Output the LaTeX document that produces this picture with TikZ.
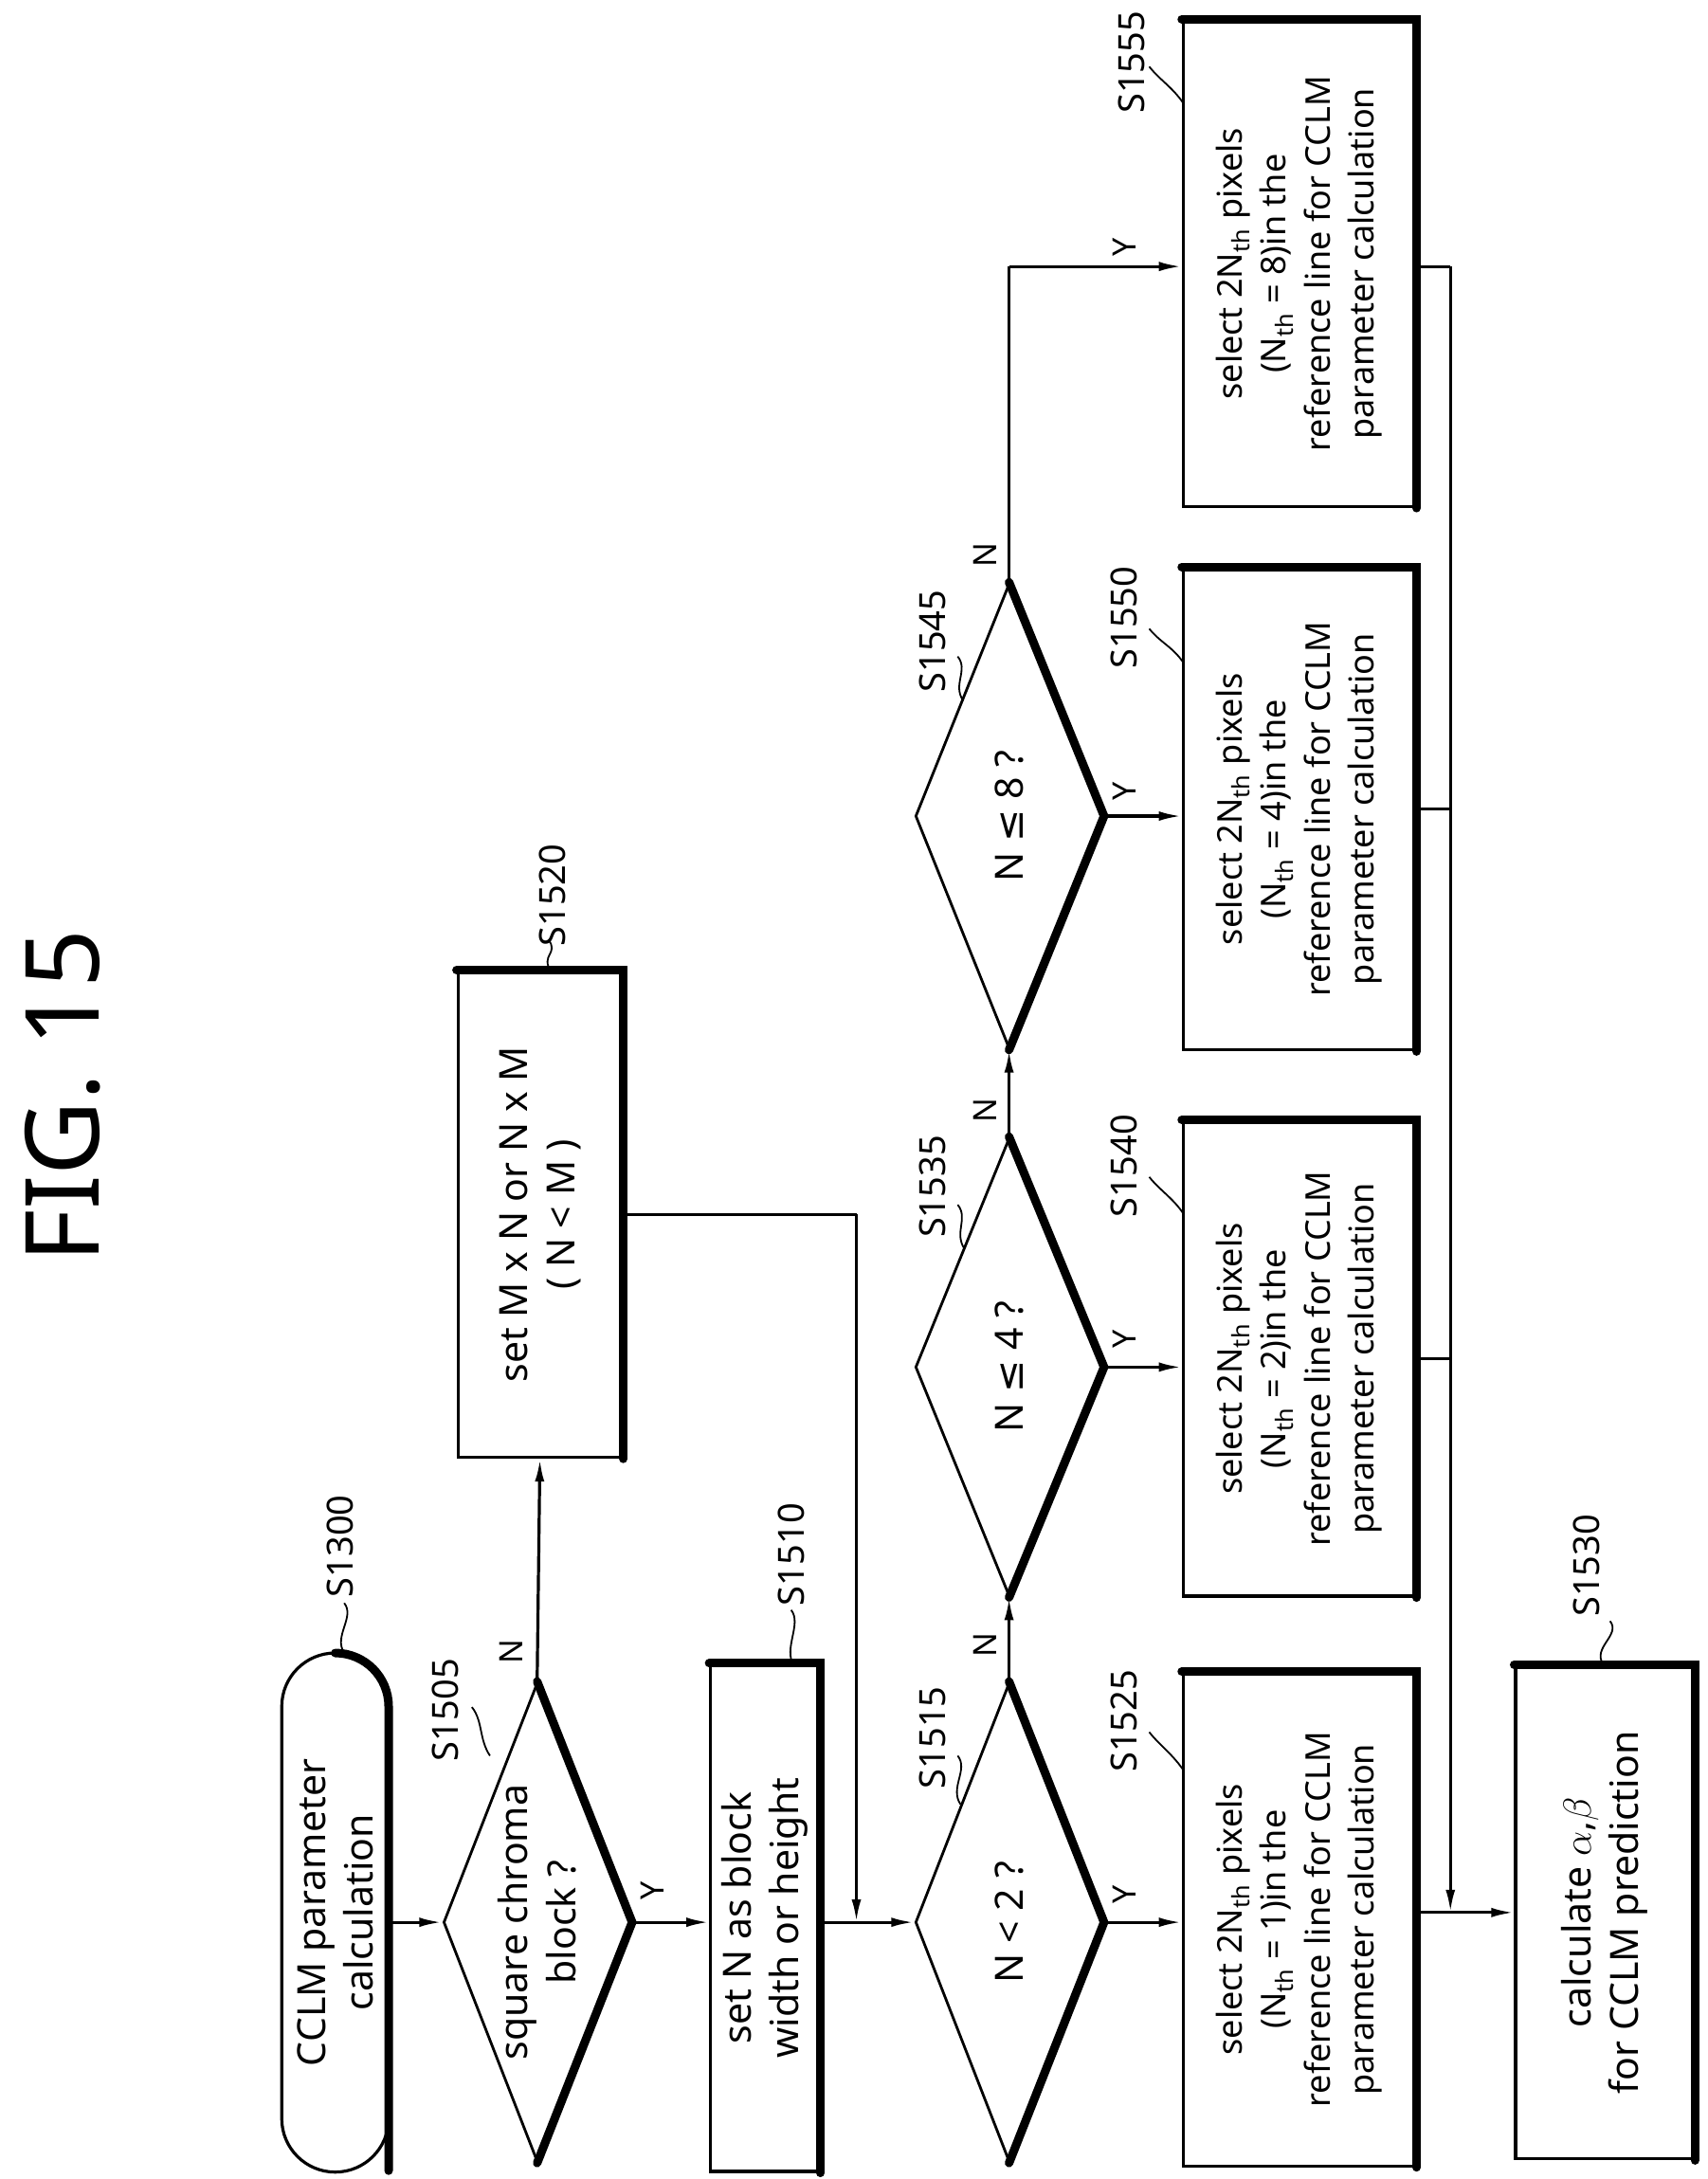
\documentclass[tikz,border=0pt]{standalone}
\usepackage{fontspec}
\setmainfont{Noto Sans}
\newfontfamily\dv{DejaVu Sans}
\usetikzlibrary{shapes.geometric,arrows.meta}
\begin{document}
\begin{tikzpicture}[x=0.7315pt,y=-0.7315pt,
  txt/.style={rotate=90,font=\fontsize{18}{23}\selectfont,align=center,inner sep=0},
  big/.style={font=\fontsize{20.5}{25}\selectfont},
  box/.style={txt,draw,line width=1.6pt,minimum width=#1*0.7315pt},
  dia/.style={txt,big,draw,diamond,line width=1.4pt,minimum width=345*0.7315pt,minimum height=135*0.7315pt,aspect=2.6},
  thick/.style={line width=4.5pt,line cap=round},
  lab/.style={rotate=90,font=\fontsize{19}{22}\selectfont,inner sep=0},
  yn/.style={rotate=90,font=\fontsize{17}{20}\selectfont,inner sep=0},
  sq/.style={line width=0.9pt},
  conn/.style={line width=1.6pt},
  arr/.style={conn,-{Latex[length=12pt,width=5pt]}}]
\useasboundingbox (0,0) rectangle (1230,1570);
\node[rotate=90,font=\fontsize{54}{60}\selectfont] (fig) at (45,790) {FIG. 15};
% start
\node[txt,big,draw,line width=1.6pt,rounded corners=38.5*0.7315pt,minimum width=374*0.7315pt,minimum height=77*0.7315pt] (s) at (241.5,1378) {CCLM parameter\\calculation};
\draw[thick] (241.5,1191) arc (-90:0:38.5) -- (280,1564);
% decisions and boxes
\node[dia] (d1) at (387,1385) {square chroma\\block ?};
\node[box=365,big,minimum height=78*0.7315pt] (b10) at (551,1382) {set N as block\\width or height};
\node[box=350,big,minimum height=118*0.7315pt] (b20) at (389,875) {set M x N or N x M\\( N < M )};
\node[dia] (d15) at (727,1385) {N < 2 ?};
\node[dia,minimum width=330*0.7315pt] (d35) at (727,985) {N {\dv ≤} 4 ?};
\node[dia,minimum width=335*0.7315pt] (d45) at (727,588) {N {\dv ≤} 8 ?};
\node[box=355,minimum height=167*0.7315pt] (b25) at (936,1383) {select 2N\textsubscript{th} pixels\\(N\textsubscript{th} = 1)in the\\reference line for CCLM\\parameter calculation};
\node[box=342,minimum height=167*0.7315pt] (b40) at (936,979) {select 2N\textsubscript{th} pixels\\(N\textsubscript{th} = 2)in the\\reference line for CCLM\\parameter calculation};
\node[box=347,minimum height=167*0.7315pt] (b50) at (936,583) {select 2N\textsubscript{th} pixels\\(N\textsubscript{th} = 4)in the\\reference line for CCLM\\parameter calculation};
\node[box=350,minimum height=167*0.7315pt] (b55) at (936,190) {select 2N\textsubscript{th} pixels\\(N\textsubscript{th} = 8)in the\\reference line for CCLM\\parameter calculation};
\node[box=355,big,minimum height=128*0.7315pt] (b30) at (1156,1378) {calculate $\alpha$,$\beta$\\for CCLM prediction};
% thick edges
\foreach \n in {b10,b20,b25,b40,b50,b55,b30}{\draw[thick] (\n.north east) -- (\n.south east) -- (\n.south west);}
\foreach \n in {d1,d15,d35,d45}{\draw[thick] (\n.east) -- (\n.south) -- (\n.west);}
% connectors
\draw[arr] (s.south |- d1.north) -- (d1.north);
\draw[arr] (d1.south) -- (b10.north |- d1.south);
\draw[arr] (d1.east) -- (b20.west);
\draw[arr] (b10.south |- d15.north) -- (d15.north);
\coordinate (j) at (617,875);
\draw[conn] (b20.south) -- (j);
\draw[arr] (j) -- (j |- d15.north);
\draw[arr] (d15.south) -- (b25.north |- d15.south);
\draw[arr] (d15.east) -- (d35.west);
\draw[arr] (d35.south) -- (b40.north |- d35.south);
\draw[arr] (d35.east) -- (d45.west);
\draw[arr] (d45.south) -- (b50.north |- d45.south);
\coordinate (t) at (727,192);
\draw[conn] (d45.east) -- (t);
\draw[arr] (t) -- (b55.north |- t);
\coordinate (bus) at (1045,192);
\draw[conn] (b55.south |- bus) -- (bus);
\foreach \n in {b50,b40}{\draw[conn] (\n.south) -- (bus |- \n.south);}
\draw[arr] (bus) -- (bus |- b30.north);
\draw[arr] (b25.south |- b30.north) -- (b30.north);
% Y/N
\node[yn] (y1) at (470,1362) {Y};
\node[yn] (n1) at (368,1190) {N};
\node[yn] (y2) at (810,1365) {Y};
\node[yn] (n2) at (710,1185) {N};
\node[yn] (y3) at (810,965) {Y};
\node[yn] (n3) at (710,800) {N};
\node[yn] (y4) at (810,570) {Y};
\node[yn] (n4) at (710,400) {N};
\node[yn] (y5) at (810,178) {Y};
% step labels
\newcommand\squig[2]{\draw[sq] (#1) .. controls +(8,10) and +(-8,-12) .. (#2);}
\node[lab] (l1300) at (245,1114) {S1300};
\squig{248,1155}{248,1191}
\node[lab] (l1505) at (321,1232) {S1505};
\squig{340,1230}{353,1265}
\node[lab] (l1510) at (570,1120) {S1510};
\squig{570,1160}{572,1200}
\node[lab] (l1520) at (398,645) {S1520};
\squig{395,677}{397,700}
\node[lab] (l1515) at (672,1252) {S1515};
\squig{690,1265}{692,1300}
\node[lab] (l1535) at (672,855) {S1535};
\squig{690,868}{695,900}
\node[lab] (l1545) at (672,462) {S1545};
\squig{690,473}{694,505}
\node[lab] (l1525) at (810,1240) {S1525};
\squig{828,1248}{853,1276}
\node[lab] (l1540) at (810,840) {S1540};
\squig{828,848}{853,875}
\node[lab] (l1550) at (810,445) {S1550};
\squig{828,453}{853,478}
\node[lab] (l1555) at (815,45) {S1555};
\squig{828,48}{853,75}
\node[lab] (l1530) at (1143,1128) {S1530};
\squig{1160,1168}{1155,1199}
\end{tikzpicture}
\end{document}
